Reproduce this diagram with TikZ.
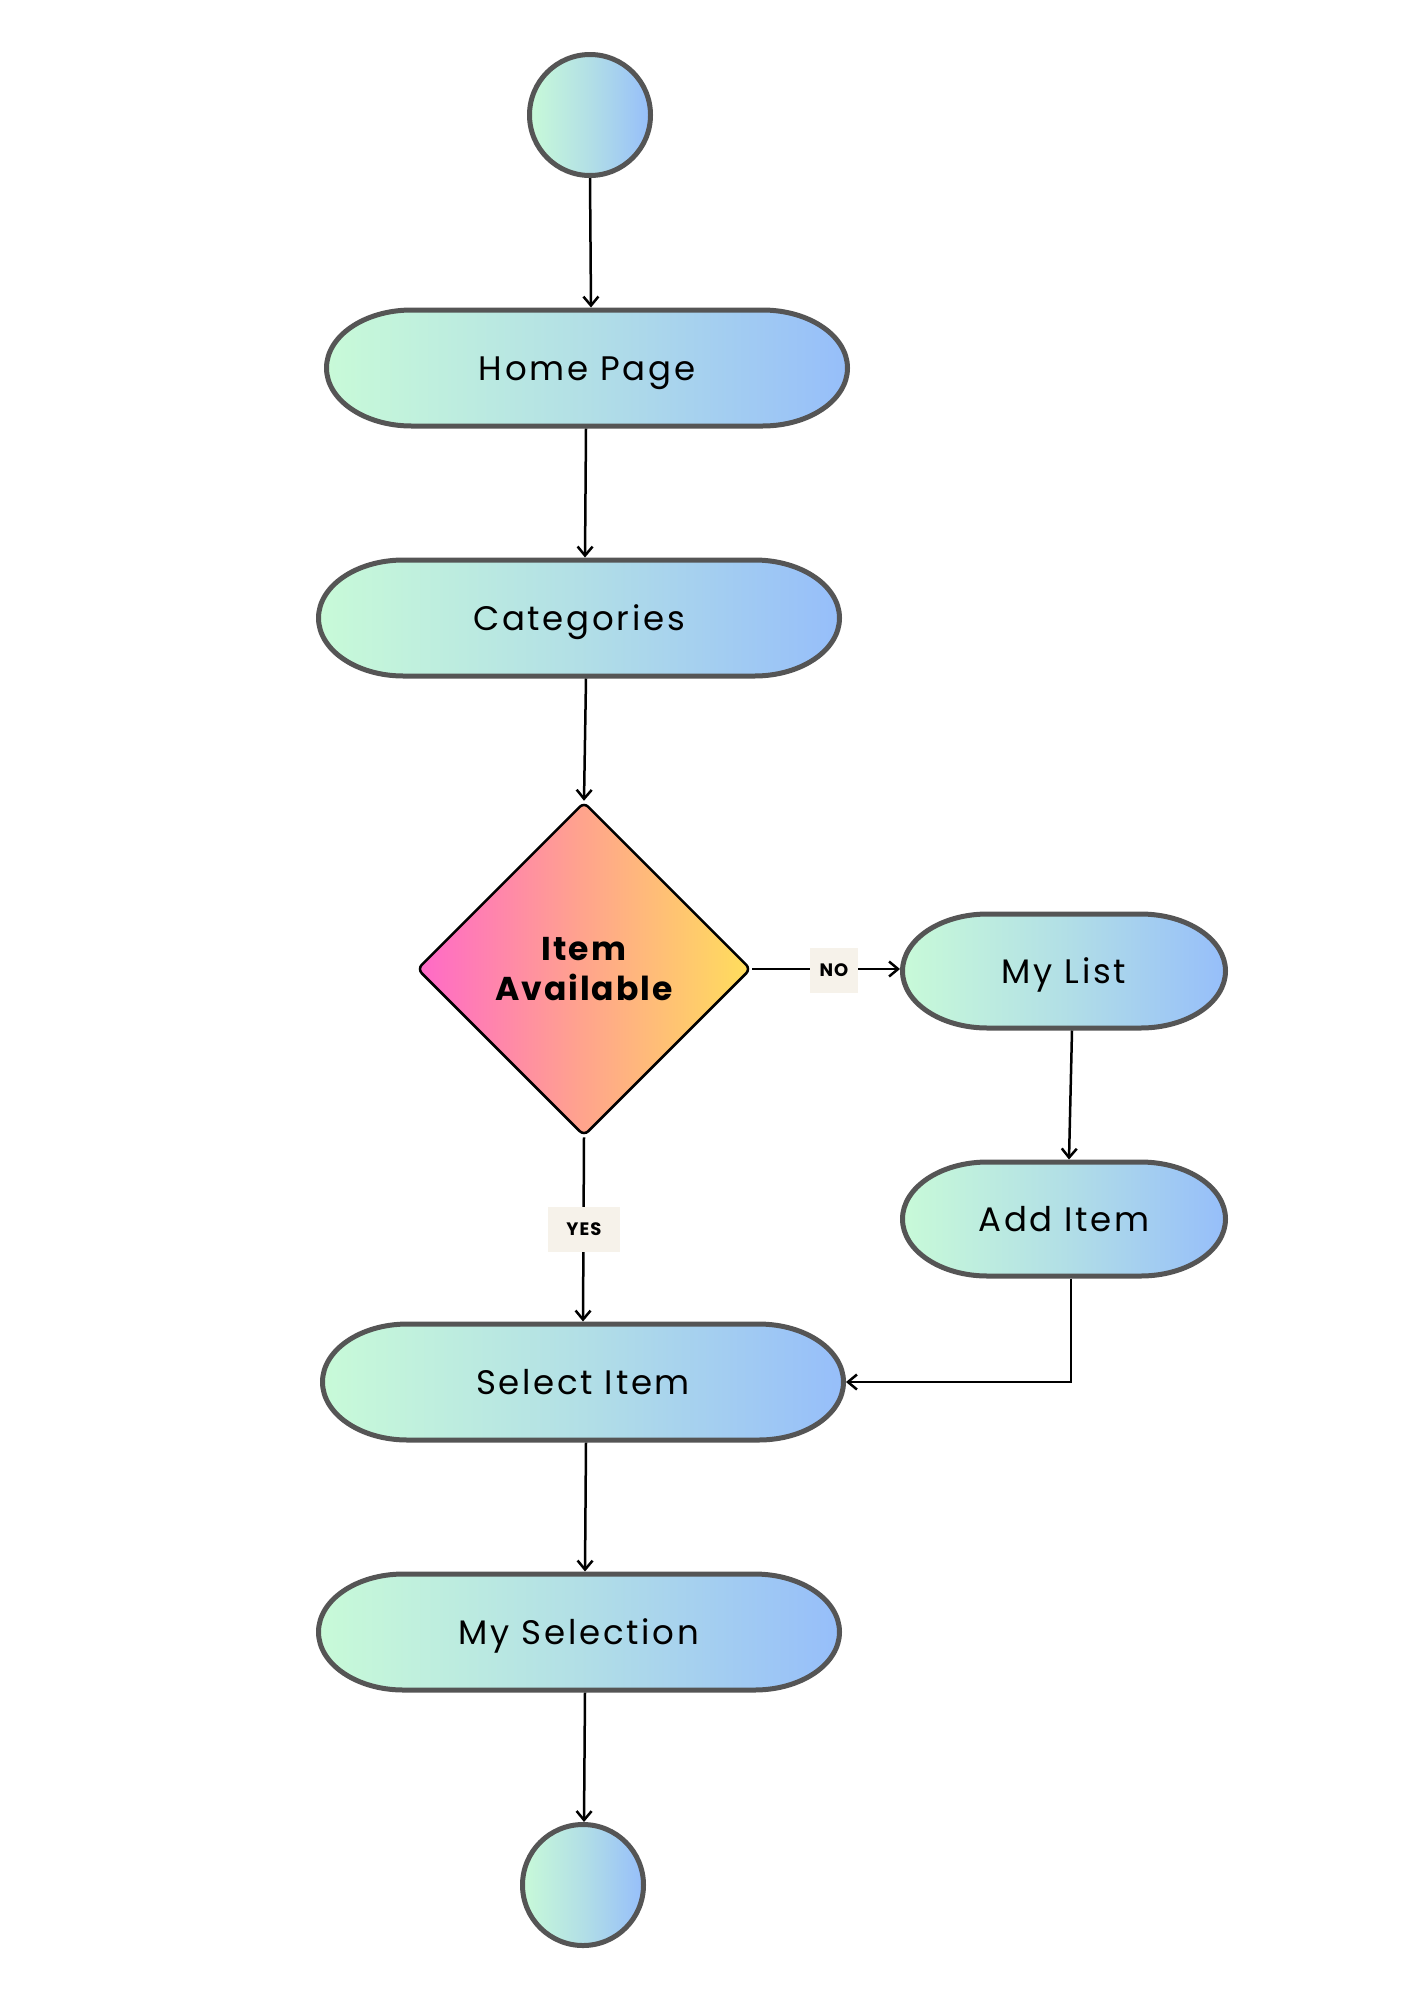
\documentclass[tikz,border=0pt]{standalone}
\usepackage{fontspec}
\setmainfont{Poppins}
\newfontfamily\pfont[LetterSpace=8]{Poppins}
\newfontfamily\bfont[LetterSpace=6]{Poppins}
\usetikzlibrary{shapes.geometric,arrows.meta,backgrounds}
\definecolor{mint}{HTML}{C8FAD8}
\definecolor{sky}{HTML}{96BEFA}
\definecolor{midb}{HTML}{B2DFE6}
\definecolor{edgegray}{HTML}{555555}
\definecolor{pinkc}{HTML}{FF69C8}
\definecolor{salmon}{HTML}{FFA48C}
\definecolor{yel}{HTML}{FFDE5C}
\definecolor{tagbg}{HTML}{F6F2EA}
\newcommand\drawpill[3]{%
  \begin{scope}[shift={(#1.center)}]
    \path[pillpath] (-#2+85,#3) -- (#2-85,#3)
      arc[start angle=90,end angle=-90,x radius=85,y radius=#3]
      -- (-#2+85,-#3)
      arc[start angle=270,end angle=90,x radius=85,y radius=#3] -- cycle;
  \end{scope}}
\begin{document}
\begin{tikzpicture}[x=1pt,y=1pt,
  pillnode/.style={rectangle, inner sep=0pt, outer sep=2.5pt, text height=28pt, text depth=4pt,
    font=\pfont\fontsize{34}{40}\selectfont},
  bigpill/.style={pillnode, minimum width=521pt, minimum height=116pt},
  smallpill/.style={pillnode, minimum width=323pt, minimum height=114pt},
  pillpath/.style={draw=edgegray, line width=5pt, left color=mint, right color=sky, middle color=midb},
  circ/.style={circle, minimum size=121pt, inner sep=0pt, draw=edgegray, line width=5pt,
    left color=mint, right color=sky, middle color=midb},
  decision/.style={diamond, aspect=1, minimum width=334pt, minimum height=334pt, inner sep=0pt,
    draw=black, line width=2.5pt, rounded corners=6pt,
    left color=pinkc, right color=yel, middle color=salmon,
    align=center, font=\bfont\bfseries\fontsize{33}{40}\selectfont},
  tag/.style={rectangle, fill=tagbg, inner sep=0pt, minimum height=45pt,
    font=\bfont\bfseries\fontsize{18}{20}\selectfont},
  arr/.style={line width=2.5pt, -{Straight Barb[length=9pt,width=15pt]}}
]
\path[use as bounding box] (0,0) rectangle (1414,-2000);

\node[circ] (start) at (590,-115) {};
\node[bigpill] (hp) at (587,-368) {Home Page};
\node[bigpill] (cat) at (579,-618) {Categories};
\node[decision] (dec) at (584,-969) {Item\\Available};
\node[smallpill] (ml) at (1064,-971) {My List};
\node[smallpill] (ai) at (1064,-1219) {Add Item};
\node[bigpill] (si) at (583,-1382) {Select Item};
\node[bigpill] (ms) at (579,-1632) {My Selection};
\node[circ] (stop) at (583,-1885) {};

\begin{scope}[on background layer]
  \fill[white] (0,0) rectangle (1414,-2000);
  \drawpill{hp}{260.5}{58}
  \drawpill{cat}{260.5}{58}
  \drawpill{si}{260.5}{58}
  \drawpill{ms}{260.5}{58}
  \drawpill{ml}{161.5}{57}
  \drawpill{ai}{161.5}{57}
\end{scope}

\draw[arr] (start.south) -- ([xshift=1pt]start.south |- hp.north);
\draw[arr] ([xshift=-1pt]hp.south) -- ([xshift=-2pt]hp.south |- cat.north);
\draw[arr] ([xshift=7pt]cat.south) -- (dec.north);
\draw[arr] (dec.east) -- (dec.east -| ml.west);
\draw[arr] ([xshift=8pt]ml.south) -- ([xshift=5pt]ai.north);
\draw[arr] ([xshift=7pt]ai.south) |- (si.east);
\draw[arr] (dec.south) -- (si.north);
\draw[arr] ([xshift=3pt]si.south) -- ([xshift=2pt]si.south |- ms.north);
\draw[arr] ([xshift=6pt]ms.south) -- ([xshift=1pt]stop.north);

\node[tag, minimum width=48pt] (no) at (834,-970) {NO};
\node[tag, minimum width=72pt] (yes) at (584,-1229) {YES};
\end{tikzpicture}
\end{document}
